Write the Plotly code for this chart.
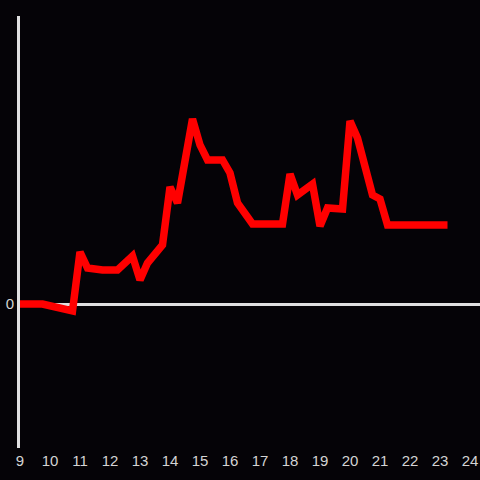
import plotly.graph_objects as go

hours = [9, 9.75, 10.75, 11, 11.25, 11.75, 12.25, 12.75, 13, 13.25, 13.75, 14, 14.25,
         14.75, 15, 15.25, 15.75, 16, 16.25, 16.75, 17.75, 18, 18.25, 18.75, 19, 19.25,
         19.75, 20, 20.25, 20.75, 21, 21.25, 23.25]
values = [0, 0, -7, 52, 36, 34, 34, 48, 24, 41, 59, 117, 101,
          185, 159, 144, 144, 131, 101, 80, 80, 130, 109, 120, 78, 96,
          95, 183, 166, 109, 105, 79, 79]
x_ticks = list(range(9, 25))
x_tick_labels = [str(t) for t in x_ticks]

fig = go.Figure(go.Scatter(x=hours, y=values, mode="lines",
                           line=dict(color="#ff0000", width=7.5), hoverinfo="skip"))

fig.update_layout(
    width=480, height=480,
    margin=dict(l=20, r=0, t=16, b=32),
    paper_bgcolor="#050307", plot_bgcolor="#050307",
    showlegend=False,
    font=dict(family="Liberation Sans, Arial, sans-serif", size=15, color="#d4d4d4"),
    xaxis=dict(range=[9, 24.333], tickvals=x_ticks, ticktext=x_tick_labels,
               showgrid=False, zeroline=False, showline=False, ticks="",
               ticklabelstandoff=2),
    yaxis=dict(range=[-144, 288], tickvals=[0], ticktext=["0"],
               showgrid=False, zeroline=True, zerolinecolor="#e0e0e0", zerolinewidth=3,
               showline=True, linecolor="#e0e0e0", linewidth=3, ticks=""),
)

fig.write_html("out.html", config={"displayModeBar": False},
               post_script="document.body.style.margin='0';document.body.style.background='#050307';")
